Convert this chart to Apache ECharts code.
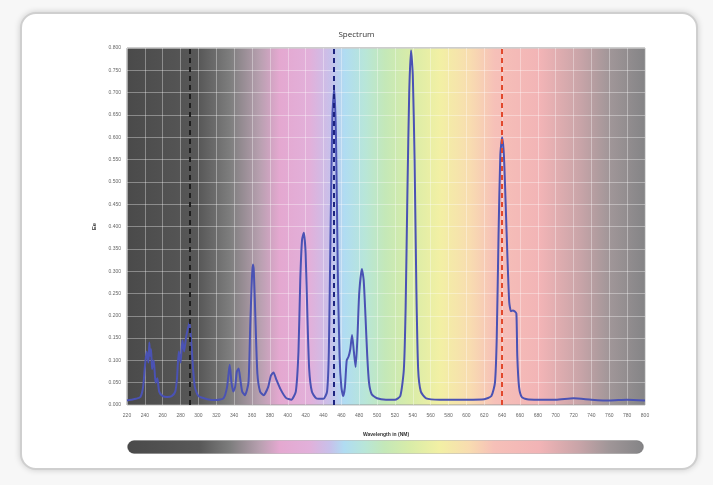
<!DOCTYPE html>
<html>
<head>
<meta charset="utf-8">
<script src="https://cdn.jsdelivr.net/npm/echarts@6/dist/echarts.min.js"></script>
<style>
html,body{margin:0;padding:0;background:#f7f7f7;}
.card{position:absolute;left:20px;top:12px;width:674px;height:454px;background:#fff;
  border:2px solid #cfcfcf;border-radius:16px;box-shadow:0 0 6px rgba(0,0,0,0.18);}
#spectrum{position:absolute;left:0;top:0;width:713px;height:485px;}
</style>
</head>
<body>
<div class="card"></div>
<div id="spectrum"></div>
<script>
// wavelength (nm) and intensity
var wavelength = [220,225,230,235,238,240,242,244,245,246,247,248,250,252,254,256,260,265,270,274,276,278,280,282,284,286,288,290,292,294,296,300,310,320,328,332,335,337,339,341,343,345,347,349,352,356,358,360,361,362,364,366,369,373,378,381,384,387,392,398,404,409,412,414,416,418,420,422,424,427,432,440,444,446,448,450,452,454,456,458,460,462,464,466,468,470,472,474,476,478,480,483,485,487,489,491,494,500,510,520,526,530,532,534,536,538,540,542,544,546,549,555,570,600,620,628,632,634,636,638,640,642,644,646,648,650,652,654,656,657,659,662,668,680,700,720,740,760,780,800];
var intensity  = [0.010,0.012,0.014,0.018,0.040,0.085,0.120,0.095,0.140,0.110,0.125,0.080,0.100,0.050,0.060,0.030,0.020,0.018,0.020,0.030,0.060,0.120,0.095,0.145,0.120,0.150,0.170,0.185,0.140,0.080,0.040,0.020,0.013,0.011,0.015,0.040,0.090,0.050,0.030,0.040,0.075,0.082,0.055,0.030,0.022,0.050,0.180,0.290,0.315,0.300,0.180,0.070,0.030,0.022,0.040,0.065,0.073,0.058,0.035,0.016,0.012,0.030,0.120,0.280,0.370,0.386,0.340,0.200,0.080,0.030,0.015,0.014,0.030,0.120,0.400,0.650,0.710,0.600,0.300,0.110,0.040,0.020,0.040,0.100,0.108,0.125,0.157,0.120,0.085,0.150,0.250,0.305,0.280,0.200,0.110,0.050,0.024,0.015,0.012,0.012,0.020,0.080,0.220,0.480,0.700,0.795,0.740,0.550,0.260,0.080,0.030,0.015,0.012,0.012,0.013,0.020,0.050,0.150,0.380,0.560,0.600,0.560,0.450,0.330,0.230,0.210,0.212,0.210,0.205,0.110,0.040,0.018,0.013,0.012,0.012,0.015,0.012,0.010,0.012,0.010];
var markers = [
  {x: 290, color: '#1e1e1e'},
  {x: 452, color: '#1c2380'},
  {x: 640, color: '#e2482c'}
];

var points = [];
for (var i = 0; i < wavelength.length; i++) {
  points.push([wavelength[i], intensity[i]]);
}

// rainbow stops used for the plot background and the bar below
function spectrumFill() {
  return new echarts.graphic.LinearGradient(0, 0, 1, 0, [
    {offset: 0,     color: '#4a4a4a'},
    {offset: 0.14,  color: '#585858'},
    {offset: 0.20,  color: '#7e7e7e'},
    {offset: 0.257, color: '#b8a0b0'},
    {offset: 0.295, color: '#e4a8d0'},
    {offset: 0.353, color: '#e2b0da'},
    {offset: 0.392, color: '#c8c0ea'},
    {offset: 0.42,  color: '#b0dcf2'},
    {offset: 0.46,  color: '#b8e6d8'},
    {offset: 0.498, color: '#c4e8b8'},
    {offset: 0.546, color: '#d8eca8'},
    {offset: 0.604, color: '#f2f0a4'},
    {offset: 0.662, color: '#f8dcb0'},
    {offset: 0.71,  color: '#f6c0b8'},
    {offset: 0.797, color: '#f2b4b6'},
    {offset: 0.875, color: '#c8a4a8'},
    {offset: 0.932, color: '#a09698'},
    {offset: 1,     color: '#848486'}
  ]);
}

var chart = echarts.init(document.getElementById('spectrum'));
var option = {
  animation: false,
  title: {
    text: 'Spectrum',
    left: 'center',
    top: 26,
    textStyle: {fontSize: 8, fontWeight: 'normal', color: '#333', fontFamily: 'Open Sans'}
  },
  grid: {
    left: 127, right: 68, top: 48, bottom: 80,
    show: true,
    backgroundColor: spectrumFill(),
    borderColor: '#9a9a9a',
    borderWidth: 1
  },
  xAxis: {
    type: 'value',
    min: 220, max: 800, interval: 20,
    name: 'Wavelength in (NM)',
    nameLocation: 'middle',
    nameGap: 27,
    nameTextStyle: {fontSize: 5, fontWeight: 'bold', color: '#333'},
    axisLine: {show: false},
    axisTick: {show: false},
    axisLabel: {fontSize: 5, color: '#666', margin: 8},
    splitLine: {lineStyle: {color: 'rgba(255,255,255,0.35)', width: 1}}
  },
  yAxis: {
    type: 'value',
    min: 0, max: 0.8, interval: 0.05,
    name: 'Ee',
    nameLocation: 'middle',
    nameRotate: 90,
    nameGap: 27,
    nameTextStyle: {fontSize: 6, fontWeight: 'bold', color: '#333'},
    axisLine: {show: false},
    axisTick: {show: false},
    axisLabel: {fontSize: 5, color: '#666', margin: 6,
      formatter: function (v) { return v.toFixed(3); }},
    splitLine: {lineStyle: {color: 'rgba(255,255,255,0.35)', width: 1}}
  },
  graphic: [{
    type: 'rect',
    left: 127, top: 440,
    shape: {width: 516, height: 13, r: 6.5},
    style: {fill: spectrumFill(), stroke: 'rgba(0,0,0,0.15)', lineWidth: 1}
  }],
  series: [{
    type: 'line',
    data: points,
    showSymbol: false,
    smooth: 0.2,
    lineStyle: {color: '#4a52b4', width: 2},
    z: 3,
    markLine: {
      silent: true,
      symbol: 'none',
      label: {show: false},
      data: markers.map(function (m) {
        return {xAxis: m.x, lineStyle: {color: m.color, type: [5, 4], width: 2}};
      })
    }
  }]
};
chart.setOption(option);
</script>
</body>
</html>
